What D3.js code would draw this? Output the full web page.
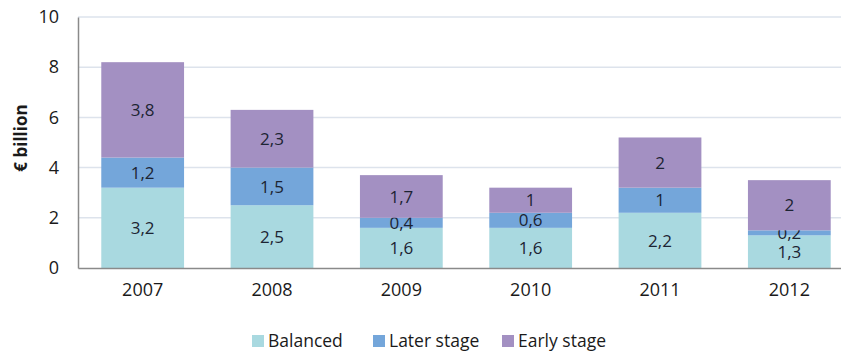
<!DOCTYPE html>
<html lang="en">
<head>
  <meta charset="UTF-8">
  <title>Investment by stage</title>
  <script src="https://d3js.org/d3.v7.min.js"></script>
  <style>
    body { margin: 0; background: #fff; font-family: "Open Sans", Lato, sans-serif; }
    .tick text { font-size: 18px; fill: #1a1a1a; font-family: "Open Sans", Lato, sans-serif; }
  </style>
</head>
<body>
  <div id="chart"></div>
  <script>
    // Data
    const years = ["2007", "2008", "2009", "2010", "2011", "2012"];
    const balanced = [3.2, 2.5, 1.6, 1.6, 2.2, 1.3];
    const laterStage = [1.2, 1.5, 0.4, 0.6, 1, 0.2];
    const earlyStage = [3.8, 2.3, 1.7, 1, 2, 2];
    const seriesNames = ["Balanced", "Later stage", "Early stage"];
    const yTicks = [0, 2, 4, 6, 8, 10];

    const colors = ["#a9d9e0", "#74a6da", "#a390c2"];
    const W = 841, H = 353;

    const svg = d3.select("#chart").append("svg")
      .attr("width", W).attr("height", H);

    // the plot runs a little past the right edge of the picture
    const x = d3.scaleBand().domain(years).range([78, 854]).paddingInner(0.36).paddingOuter(0.18);
    const y = d3.scaleLinear().domain([0, 10]).range([268, 17]);

    const rows = years.map((yr, i) => ({
      year: yr, "Balanced": balanced[i], "Later stage": laterStage[i], "Early stage": earlyStage[i]
    }));
    const stacked = d3.stack().keys(seriesNames)(rows);

    // gridlines
    svg.append("g").selectAll("line").data(yTicks.filter(t => t > 0)).join("line")
      .attr("x1", 78).attr("x2", W)
      .attr("y1", d => y(d)).attr("y2", d => y(d))
      .attr("stroke", "#dde3ec").attr("stroke-width", 1.5);

    // bars
    const fmt = v => String(v).replace(".", ",");
    stacked.forEach((s, si) => {
      const g = svg.append("g");
      g.selectAll("rect").data(s).join("rect")
        .attr("x", d => x(d.data.year))
        .attr("width", x.bandwidth())
        .attr("y", d => y(d[1]))
        .attr("height", d => y(d[0]) - y(d[1]))
        .attr("fill", colors[si]);
      g.selectAll("text").data(s).join("text")
        .attr("x", d => x(d.data.year) + x.bandwidth() / 2)
        .attr("y", d => y((d[0] + d[1]) / 2))
        .attr("dy", "0.36em")
        .attr("text-anchor", "middle")
        .attr("font-size", 17)
        .attr("fill", "#1c2433")
        .text(d => fmt(d.data[s.key]));
    });

    // y axis
    const yAxis = svg.append("g").attr("transform", "translate(78,0)")
      .call(d3.axisLeft(y).tickValues(yTicks).tickSize(0).tickPadding(19));
    yAxis.select(".domain").attr("stroke", "#8a8a8a").attr("stroke-width", 1.5);

    // x axis
    const xAxis = svg.append("g").attr("transform", "translate(0,268)")
      .call(d3.axisBottom(x).tickSize(0).tickPadding(15));
    xAxis.select(".domain").attr("stroke", "#8a8a8a").attr("stroke-width", 1.5);

    // y label
    svg.append("text")
      .attr("transform", "rotate(-90)")
      .attr("x", -138).attr("y", 27)
      .attr("text-anchor", "middle")
      .attr("font-size", 17).attr("font-weight", "bold").attr("fill", "#1a1a1a")
      .text("€ billion");

    // legend
    const legendX = [252, 373, 502];
    const legend = svg.append("g").selectAll("g").data(seriesNames).join("g")
      .attr("transform", (d, i) => `translate(${legendX[i]},341)`);
    legend.append("rect").attr("x", 0).attr("y", -6).attr("width", 12).attr("height", 12)
      .attr("fill", (d, i) => colors[i]);
    legend.append("text").attr("x", 16).attr("dy", "0.36em")
      .attr("font-size", 17.5).attr("fill", "#1a1a1a").text(d => d);
  </script>
</body>
</html>
